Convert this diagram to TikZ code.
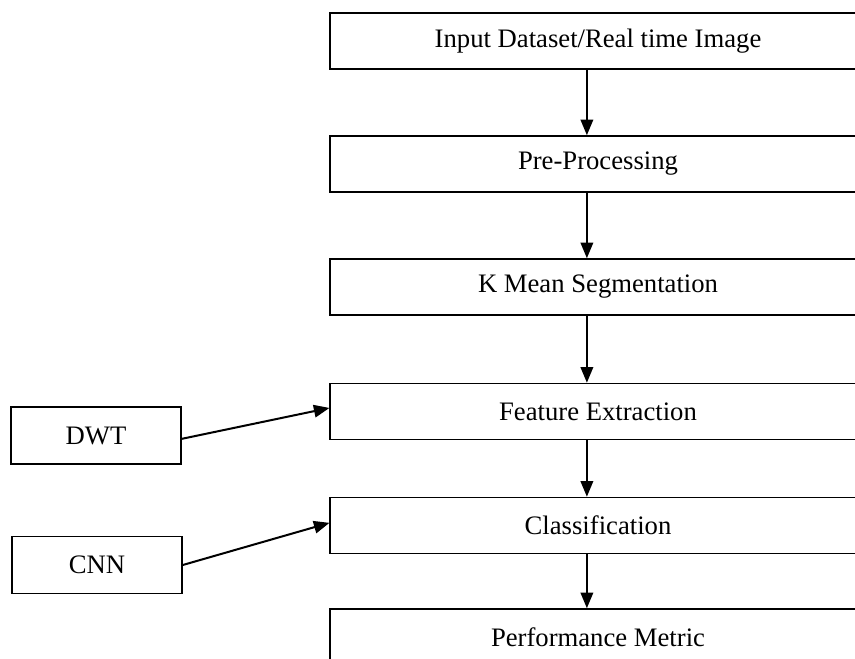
\documentclass[tikz,border=0pt]{standalone}
\usepackage{fontspec}
\setmainfont{Liberation Serif}
\usepackage{tikz}
\usetikzlibrary{positioning}
\usetikzlibrary{arrows.meta}

\begin{document}
\begin{tikzpicture}[
  x=0.45pt, y=-0.45pt,
  box/.style={
    rectangle,
    draw=black,
    line width=0.7pt,
    fill=white,
    minimum width=241pt,
    minimum height=25.2pt,
    inner sep=0pt,
    align=center,
    font=\fontsize{12}{14}\selectfont
  },
  side/.style={box, minimum width=76.5pt, minimum height=25.6pt},
  arr/.style={-{Triangle[length=7pt,width=5.6pt]}, line width=0.9pt, black}
]

\useasboundingbox (0,0) rectangle (855,659);
\clip (0,0) rectangle (855,659);

% Main chain
\node[box] (input)   at (598, 41)    {Input Dataset/Real time Image};
\node[box] (preproc) at (598, 164)   {Pre-Processing};
\node[box] (kmeans)  at (598, 287)   {K Mean Segmentation};
\node[box] (feature) at (598, 411.5) {Feature Extraction};
\node[box] (classif) at (598, 525.5) {Classification};
\node[box] (metric)  at (598, 637)   {Performance Metric};

% Side inputs
\node[side] (dwt) at (96, 435.5) {DWT};
\node[side] (cnn) at (97, 565)   {CNN};

% Arrows
\draw[arr] ([xshift=-5pt]input.south)   -- ([xshift=-5pt]preproc.north);
\draw[arr] ([xshift=-5pt]preproc.south) -- ([xshift=-5pt]kmeans.north);
\draw[arr] ([xshift=-5pt]kmeans.south)  -- ([xshift=-5pt]feature.north);
\draw[arr] ([xshift=-5pt]feature.south) -- ([xshift=-5pt]classif.north);
\draw[arr] ([xshift=-5pt]classif.south) -- ([xshift=-5pt]metric.north);

\draw[arr] ([yshift=-1.5pt]dwt.east) -- ([yshift=1.6pt]feature.west);
\draw[arr] (cnn.east) -- ([yshift=1.2pt]classif.west);

\end{tikzpicture}
\end{document}
